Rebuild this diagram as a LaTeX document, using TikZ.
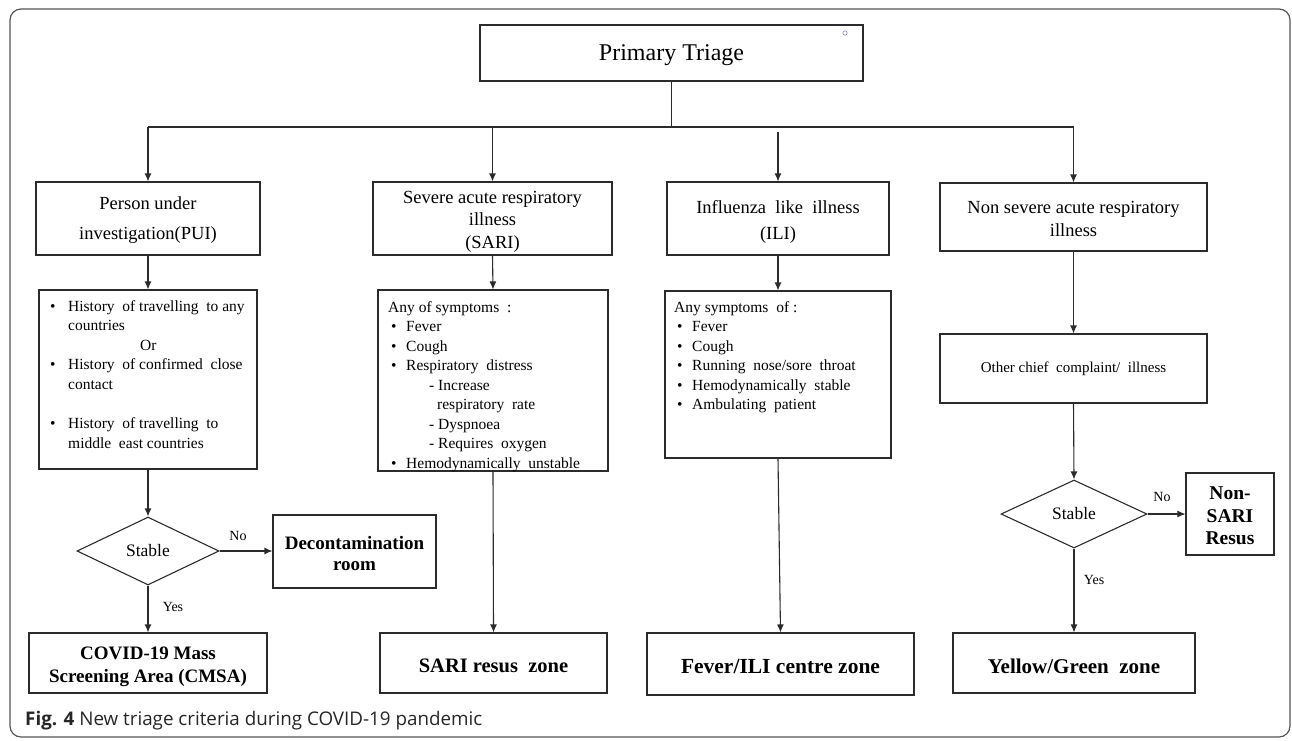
\documentclass[tikz,border=0pt]{standalone}
\usepackage{fontspec}
\setmainfont{Liberation Serif}
\newfontfamily\capfont{Open Sans}
\usetikzlibrary{shapes.geometric,arrows.meta}
\definecolor{lc}{HTML}{2B2B2B}
\definecolor{fc}{HTML}{555555}
\tikzset{
  box/.style={draw=lc, line width=1.1pt, inner sep=0pt, align=center, text=black},
  btxt/.style={inner sep=0pt, align=center, text=black},
  txt/.style={inner sep=0pt, align=left, anchor=north west, font=\fontsize{15.5}{19.5}\selectfont},
  ln/.style={draw=lc, line width=1.1pt},
  arr/.style={draw=lc, line width=1.1pt, -{Latex[length=8pt,width=7pt]}},
  dia/.style={draw=lc, line width=1.1pt, diamond, aspect=2, inner sep=0pt, font=\fontsize{17.5}{20}\selectfont},
  lbl/.style={inner sep=0pt, font=\fontsize{14}{16}\selectfont},
  ttl/.style={font=\fontsize{18.5}{22.5}\selectfont},
  zone/.style={font=\fontsize{20.5}{23}\selectfont\bfseries},
}
\begin{document}
\begin{tikzpicture}[x=1pt,y=-1pt]
\useasboundingbox (0,0) rectangle (1292,740);
\draw[fc, line width=1.2pt, rounded corners=11pt] (10,9) rectangle (1290,737);

% top
\node[box, minimum width=383pt, minimum height=56pt] (prim) at (671.5,53) {};
\node[btxt, font=\fontsize{24}{28}\selectfont] (primt) at ([yshift=-2pt]prim.center) {Primary Triage};
\draw[blue!40!gray!70, line width=0.6pt] (845,33) circle (2.2pt);
\coordinate (bus) at (671.5,127);

% column boxes
\node[box, minimum width=224pt, minimum height=73pt] (pui) at (148,218.5) {};
\node[btxt, font=\fontsize{18.5}{30}\selectfont] (puit) at ([yshift=-2pt]pui.center) {Person under\\investigation(PUI)};
\node[box, minimum width=239pt, minimum height=73pt] (sari) at (492.5,218.5) {};
\node[btxt, ttl] (sarit) at ([yshift=-3pt]sari.center) {Severe acute respiratory\\illness\\(SARI)};
\node[box, minimum width=222pt, minimum height=73pt] (ili) at (778,218.5) {};
\node[btxt, font=\fontsize{18.5}{26}\selectfont] (ilit) at ([yshift=-3pt]ili.center) {Influenza\ \ like\ \ illness\\(ILI)};
\node[box, minimum width=267pt, minimum height=68pt] (nsari) at (1073.5,217) {};
\node[btxt, ttl] (nsarit) at ([yshift=-2pt]nsari.center) {Non severe acute respiratory\\illness};

% criteria boxes
\node[box, minimum width=218pt, minimum height=179pt] (crit1) at (148,379.5) {};
\node[txt] (crit1t) at (50,300) {%
\makebox[18pt][l]{\textbullet}History\ \ of travelling\ \ to any\\
\hspace*{18pt}countries\\
\hspace*{90pt}Or\\
\makebox[18pt][l]{\textbullet}History\ \ of confirmed\ \ close\\
\hspace*{18pt}contact\\[20pt]
\makebox[18pt][l]{\textbullet}History\ \ of travelling\ \ to\\
\hspace*{18pt}middle\ \ east countries};

\node[box, minimum width=230pt, minimum height=181pt] (crit2) at (493,380.5) {};
\node[txt] (crit2t) at (388,301) {%
Any\ of\ symptoms\ \ :\\
\hspace*{3pt}\makebox[15pt][l]{\textbullet}Fever\\
\hspace*{3pt}\makebox[15pt][l]{\textbullet}Cough\\
\hspace*{3pt}\makebox[15pt][l]{\textbullet}Respiratory\ \ distress\\
\hspace*{41pt}- Increase\\
\hspace*{49pt}respiratory\ \ rate\\
\hspace*{41pt}- Dyspnoea\\
\hspace*{41pt}- Requires\ \ oxygen\\
\hspace*{3pt}\makebox[15pt][l]{\textbullet}Hemodynamically\ \ unstable};

\node[box, minimum width=226pt, minimum height=167pt] (crit3) at (778,374.5) {};
\node[txt] (crit3t) at (674,301) {%
Any\ symptoms\ \ of :\\
\hspace*{3pt}\makebox[15pt][l]{\textbullet}Fever\\
\hspace*{3pt}\makebox[15pt][l]{\textbullet}Cough\\
\hspace*{3pt}\makebox[15pt][l]{\textbullet}Running\ \ nose/sore\ \ throat\\
\hspace*{3pt}\makebox[15pt][l]{\textbullet}Hemodynamically\ \ stable\\
\hspace*{3pt}\makebox[15pt][l]{\textbullet}Ambulating\ \ patient};

\node[box, minimum width=267pt, minimum height=69pt, font=\fontsize{15}{17}\selectfont] (other) at (1073.5,368.5) {Other chief\ \ complaint/\ \ illness};

% decisions
\node[dia, minimum width=142pt, minimum height=68pt] (dia1) at (148,551) {Stable};
\node[dia, minimum width=146pt, minimum height=68pt] (dia2) at (1074,514) {Stable};

\node[box, minimum width=163pt, minimum height=73pt] (decon) at (354.5,551.5) {};
\node[btxt, font=\fontsize{19}{21.5}\selectfont\bfseries] (decont) at ([yshift=-2pt]decon.center) {Decontamination\\room};
\node[box, minimum width=88pt, minimum height=82pt] (nonsari) at (1230,514) {};
\node[btxt, font=\fontsize{19.5}{22.5}\selectfont\bfseries] (nonsarit) at ([yshift=-2pt]nonsari.center) {Non-\\SARI\\Resus};

% bottom zones
\node[box, minimum width=238pt, minimum height=60pt] (cmsa) at (148,663) {};
\node[btxt, font=\fontsize{19}{23}\selectfont\bfseries] (cmsat) at ([yshift=-4pt]cmsa.center) {COVID-19 Mass\\Screening Area (CMSA)};
\node[box, minimum width=227pt, minimum height=60pt] (sarires) at (493.5,663) {};
\node[btxt, zone] (sariret) at ([yshift=-3pt]sarires.center) {SARI resus\ \ zone};
\node[box, minimum width=267pt, minimum height=62pt] (fever) at (780.5,664) {};
\node[btxt, font=\fontsize{21.5}{24}\selectfont\bfseries] (fevert) at ([yshift=-3pt]fever.center) {Fever/ILI\ centre zone};
\node[box, minimum width=242pt, minimum height=60pt] (yellow) at (1074,663) {};
\node[btxt, font=\fontsize{21}{24}\selectfont\bfseries] (yellowt) at ([yshift=-3pt]yellow.center) {Yellow/Green\ \ zone};

% labels
\node[lbl] (no1) at (238,536) {No};
\node[lbl] (yes1) at (173,607) {Yes};
\node[lbl] (no2) at (1162,497) {No};
\node[lbl] (yes2) at (1094,580) {Yes};

% connectors
\draw[ln] (prim.south) -- (bus);
\draw[ln] (pui.north |- bus) -- (nsari.north |- bus);
\draw[arr] (pui.north |- bus) -- (pui.north);
\draw[arr] (sari.north |- bus) -- (sari.north);
\draw[arr] ([yshift=-5pt]ili.north |- bus) -- (ili.north);
\draw[arr] (nsari.north |- bus) -- (nsari.north);

\draw[arr] (pui.south) -- (crit1.north);
\draw[arr] (sari.south) -- (crit2.north);
\draw[arr] (ili.south) -- (crit3.north);
\draw[arr] (nsari.south) -- (other.north);

\draw[arr] (crit1.south) -- (dia1.north);
\draw[arr] (dia1.east) -- (dia1.east -| decon.west);
\draw[arr] (dia1.south) -- (cmsa.north);
\draw[arr] (crit2.south) -- (sarires.north);
\draw[arr] (crit3.south) -- (fever.north);
\draw[arr] (other.south) -- (dia2.north);
\draw[arr] (dia2.east) -- (dia2.east -| nonsari.west);
\draw[arr] (dia2.south) -- (yellow.north);

% caption
\node[inner sep=0pt, anchor=base west, font=\capfont\fontsize{18.8}{22}\selectfont, text=black!85] (cap) at (25,725.5) {\textbf{Fig. 4} New triage criteria during COVID-19 pandemic};
\end{tikzpicture}
\end{document}
